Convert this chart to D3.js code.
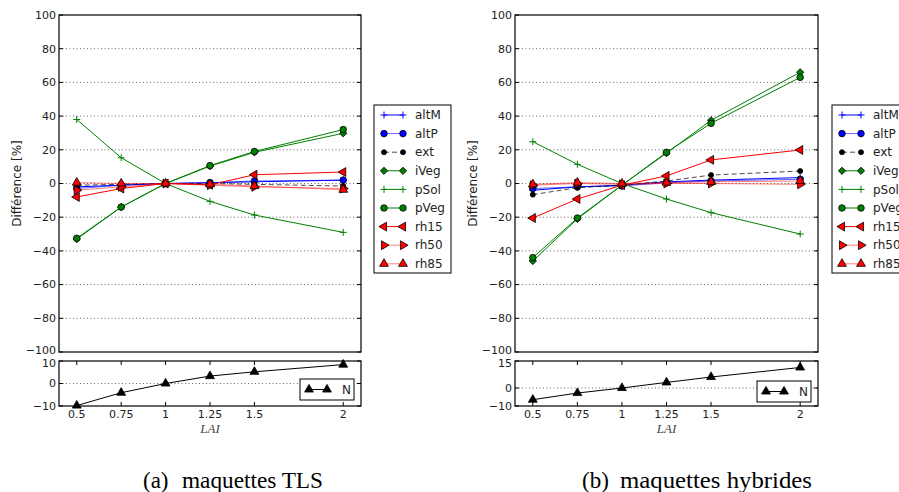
<!DOCTYPE html>
<html>
<head>
<meta charset="utf-8">
<script src="https://cdn.jsdelivr.net/npm/d3@7"></script>
<style>
  body { margin: 0; background: #fff; }
  svg { display: block; }
</style>
</head>
<body>
<svg id="chart" width="899" height="492"></svg>
<script>
// LAI values on the x axis
const lai = [0.5, 0.75, 1, 1.25, 1.5, 2];
const laiLabels = ['0.5', '0.75', '1', '1.25', '1.5', '2'];
const seriesNames = ['altM', 'altP', 'ext', 'iVeg', 'pSol', 'pVeg', 'rh15', 'rh50', 'rh85'];
const mainTicks = [-100, -80, -60, -40, -20, 0, 20, 40, 60, 80, 100];

// (a) maquettes TLS
const tlsAltM = [-2, -1, 0, 0.5, 1, 2];
const tlsAltP = [-3, -1, 0, 0.5, 1.5, 2];
const tlsExt  = [-1, -0.5, 0, 0, -0.5, -1.5];
const tlsIVeg = [-33, -14, 0, 10.3, 18.5, 29.8];
const tlsPSol = [38, 15.3, 0, -10.6, -18.7, -29];
const tlsPVeg = [-32.5, -14, 0, 10.6, 19, 32];
const tlsRh15 = [-8, -3, 0, -0.8, 5.2, 6.8];
const tlsRh50 = [-4, -2, 0, -1, -2, -3];
const tlsRh85 = [0.5, 0, 0, -0.5, -1.5, -3.7];
const tlsN    = [-9.8, -4.1, 0, 3.3, 5.2, 8.4];

// (b) maquettes hybrides
const hybAltM = [-4, -2, -1, 1, 2, 3.5];
const hybAltP = [-3, -2, -1.5, 0.5, 1.5, 2.5];
const hybExt  = [-6.6, -2.5, -1, 1.5, 5, 7.4];
const hybIVeg = [-46, -21, -1, 18, 37.5, 66];
const hybPSol = [24.8, 11.4, 0, -9.2, -17.3, -30];
const hybPVeg = [-44, -20.5, -1, 18.5, 35.7, 63];
const hybRh15 = [-20.5, -9.2, -1, 4.5, 14, 19.9];
const hybRh50 = [-1, 0, -0.5, 0, 0, -0.5];
const hybRh85 = [-0.5, 0.5, 0, 0.5, 1, 1.5];
const hybN    = [-6.5, -2.8, 0, 3.1, 6.1, 11.4];

const styles = {
  altM: { line: '#0000ff', op: 1, fill: '#0000ff', marker: 'plus', dash: null },
  altP: { line: '#0000ff', op: 0.6, fill: '#0000ff', marker: 'circle', dash: null },
  ext:  { line: '#000', op: 0.7, fill: '#000', marker: 'circleSmall', dash: '5,3' },
  iVeg: { line: '#008000', op: 1, fill: '#008000', marker: 'diamond', dash: null },
  pSol: { line: '#008000', op: 1, fill: '#008000', marker: 'plus', dash: null },
  pVeg: { line: '#008000', op: 1, fill: '#008000', marker: 'circle', dash: null },
  rh15: { line: '#ff0000', op: 1, fill: '#ff0000', marker: 'triLeft', dash: null },
  rh50: { line: '#ff0000', op: 0.5, fill: '#ff0000', marker: 'triRight', dash: null },
  rh85: { line: '#ff0000', op: 0.5, fill: '#ff0000', marker: 'triUp', dash: null }
};

const panels = [
  {
    x0: 59, x1: 361, legendX: 374, nLegendX: 300, nLegendY: 379,
    subDomain: [-10, 10], subTicks: [-10, 0, 10],
    tag: '(a)', tagX: 143, caption: 'maquettes TLS', captionX: 182, captionW: 141,
    series: [tlsAltM, tlsAltP, tlsExt, tlsIVeg, tlsPSol, tlsPVeg, tlsRh15, tlsRh50, tlsRh85],
    n: tlsN
  },
  {
    x0: 515, x1: 818, legendX: 832, nLegendX: 757, nLegendY: 381,
    subDomain: [-10, 15], subTicks: [-10, 0, 15],
    tag: '(b)', tagX: 582, caption: 'maquettes hybrides', captionX: 620, captionW: 192,
    series: [hybAltM, hybAltP, hybExt, hybIVeg, hybPSol, hybPVeg, hybRh15, hybRh50, hybRh85],
    n: hybN
  }
];

const svg = d3.select('#chart');
const font = 'DejaVu Sans, sans-serif';
const fmt = v => (v < 0 ? '\u2212' + Math.abs(v) : '' + v);

function drawMarker(g, type, x, y, fill) {
  if (type === 'plus') {
    g.append('path')
      .attr('d', `M${x - 3.5},${y}H${x + 3.5}M${x},${y - 3.5}V${y + 3.5}`)
      .attr('stroke', fill).attr('stroke-width', 1);
    return;
  }
  let sym, size = 34, rot = 0;
  if (type === 'circle') sym = d3.symbolCircle;
  else if (type === 'circleSmall') { sym = d3.symbolCircle; size = 20; }
  else if (type === 'diamond') { sym = d3.symbolSquare; size = 26; rot = 45; }
  else if (type === 'triLeft') { sym = d3.symbolTriangle; rot = -90; }
  else if (type === 'triRight') { sym = d3.symbolTriangle; rot = 90; }
  else { sym = d3.symbolTriangle; }
  g.append('path')
    .attr('d', d3.symbol().type(sym).size(size)())
    .attr('transform', `translate(${x},${y}) rotate(${rot})`)
    .attr('fill', fill)
    .attr('stroke', '#000')
    .attr('stroke-width', 0.8);
}

panels.forEach(p => {
  const x = d3.scaleLinear().domain([0.4, 2.1]).range([p.x0, p.x1]);
  const y = d3.scaleLinear().domain([-100, 100]).range([352, 15]);
  const ys = d3.scaleLinear().domain(p.subDomain).range([406, 361]);
  const g = svg.append('g');

  // grid
  g.selectAll('.grid').data(mainTicks.slice(1, -1)).join('line')
    .attr('x1', p.x0).attr('x2', p.x1)
    .attr('y1', d => y(d)).attr('y2', d => y(d))
    .attr('stroke', '#000').attr('stroke-width', 0.6).attr('stroke-dasharray', '1,2.5');
  g.append('line')
    .attr('x1', p.x0).attr('x2', p.x1).attr('y1', ys(0)).attr('y2', ys(0))
    .attr('stroke', '#000').attr('stroke-width', 0.6).attr('stroke-dasharray', '1,2.5');

  // ticks main
  mainTicks.forEach(t => {
    g.append('path').attr('d', `M${p.x0},${y(t)}h4M${p.x1},${y(t)}h-4`)
      .attr('stroke', '#000').attr('stroke-width', 1);
    g.append('text').attr('x', p.x0 - 3).attr('y', y(t) - (t === -100 ? 2 : 0)).attr('dy', '0.35em')
      .attr('text-anchor', 'end').attr('font-family', font).attr('font-size', 11)
      .attr('fill', '#222').text(fmt(t));
  });
  p.subTicks.forEach(t => {
    g.append('path').attr('d', `M${p.x0},${ys(t)}h4M${p.x1},${ys(t)}h-4`)
      .attr('stroke', '#000').attr('stroke-width', 1);
    g.append('text').attr('x', p.x0 - 3).attr('y', ys(t) + (t === p.subDomain[1] ? 2 : 0)).attr('dy', '0.35em')
      .attr('text-anchor', 'end').attr('font-family', font).attr('font-size', 11)
      .attr('fill', '#222').text(fmt(t));
  });
  lai.forEach((v, i) => {
    g.append('path').attr('d', `M${x(v)},361v4M${x(v)},406v-4`)
      .attr('stroke', '#000').attr('stroke-width', 1);
    g.append('text').attr('x', x(v)).attr('y', 418)
      .attr('text-anchor', 'middle').attr('font-family', font).attr('font-size', 11)
      .attr('fill', '#222').text(laiLabels[i]);
  });

  // series
  p.series.forEach((vals, si) => {
    const name = seriesNames[si];
    const st = styles[name];
    const pts = lai.map((v, i) => [x(v), y(vals[i])]);
    g.append('path').attr('d', d3.line()(pts))
      .attr('fill', 'none').attr('stroke', st.line).attr('stroke-opacity', st.op)
      .attr('stroke-width', 1).attr('stroke-dasharray', st.dash);
    pts.forEach(pt => drawMarker(g, st.marker, pt[0], pt[1], st.fill));
  });

  // N series
  const nPts = lai.map((v, i) => [x(v), ys(p.n[i])]);
  g.append('path').attr('d', d3.line()(nPts))
    .attr('fill', 'none').attr('stroke', '#000').attr('stroke-width', 1);
  nPts.forEach(pt => drawMarker(g, 'triUp', pt[0], pt[1], '#000'));

  // frames
  g.append('rect').attr('x', p.x0).attr('y', 15).attr('width', p.x1 - p.x0).attr('height', 337)
    .attr('fill', 'none').attr('stroke', '#000').attr('stroke-width', 1.2);
  g.append('rect').attr('x', p.x0).attr('y', 361).attr('width', p.x1 - p.x0).attr('height', 45)
    .attr('fill', 'none').attr('stroke', '#000').attr('stroke-width', 1.2);

  // y label
  g.append('text')
    .attr('transform', `translate(${p.x0 - 38},${y(0)}) rotate(-90)`)
    .attr('text-anchor', 'middle').attr('font-family', font).attr('font-size', 12)
    .attr('fill', '#222').text('Différence [%]');

  // x label
  g.append('text').attr('x', (p.x0 + p.x1) / 2).attr('y', 433)
    .attr('text-anchor', 'middle').attr('font-family', 'Liberation Serif, serif')
    .attr('font-style', 'italic').attr('font-size', 13).attr('fill', '#444').text('LAI');

  // caption
  g.append('text').attr('x', p.tagX).attr('y', 488)
    .attr('font-family', 'Liberation Serif, serif')
    .attr('font-size', 23).attr('fill', '#000').text(p.tag);
  g.append('text').attr('x', p.captionX).attr('y', 488)
    .attr('font-family', 'Liberation Serif, serif')
    .attr('textLength', p.captionW).attr('lengthAdjust', 'spacingAndGlyphs')
    .attr('font-size', 23).attr('fill', '#000').text(p.caption);

  // main legend
  const lg = g.append('g').attr('transform', `translate(${p.legendX},105)`);
  lg.append('rect').attr('width', 77).attr('height', 168)
    .attr('fill', '#fff').attr('stroke', '#000').attr('stroke-width', 1);
  seriesNames.forEach((name, i) => {
    const st = styles[name];
    const ly = 10 + i * 18.6;
    lg.append('line').attr('x1', 10).attr('x2', 29).attr('y1', ly).attr('y2', ly)
      .attr('stroke', st.line).attr('stroke-opacity', st.op).attr('stroke-width', 1)
      .attr('stroke-dasharray', st.dash);
    drawMarker(lg, st.marker, 10, ly, st.fill);
    drawMarker(lg, st.marker, 29, ly, st.fill);
    lg.append('text').attr('x', 41).attr('y', ly).attr('dy', '0.35em')
      .attr('font-family', font).attr('font-size', 12).attr('fill', '#222').text(name);
  });

  // N legend
  const ng = g.append('g').attr('transform', `translate(${p.nLegendX},${p.nLegendY})`);
  ng.append('rect').attr('width', 54).attr('height', 21)
    .attr('fill', '#fff').attr('stroke', '#000').attr('stroke-width', 1);
  ng.append('line').attr('x1', 9).attr('x2', 27).attr('y1', 10.5).attr('y2', 10.5)
    .attr('stroke', '#000').attr('stroke-width', 1);
  drawMarker(ng, 'triUp', 9, 10.5, '#000');
  drawMarker(ng, 'triUp', 27, 10.5, '#000');
  ng.append('text').attr('x', 42).attr('y', 10.5).attr('dy', '0.35em')
    .attr('font-family', font).attr('font-size', 12).attr('fill', '#222').text('N');
});
</script>
</body>
</html>
